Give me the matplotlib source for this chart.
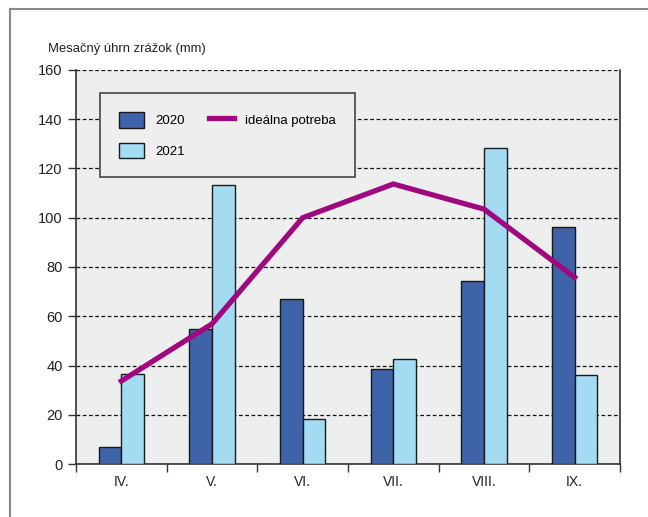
import matplotlib.pyplot as plt
from matplotlib.lines import Line2D
import numpy as np

months = ['IV.', 'V.', 'VI.', 'VII.', 'VIII.', 'IX.']
rain_2020 = [6.9, 54.8, 67, 38.5, 74.2, 96.2]
rain_2021 = [36.5, 113.5, 18.2, 42.5, 128.3, 36.3]
ideal = [33.7, 56.9, 100, 113.7, 103.5, 75.8]

plt.rcParams['font.family'] = ['Liberation Sans Narrow', 'Liberation Sans', 'DejaVu Sans']
plt.rcParams['font.size'] = 10

fig = plt.figure(figsize=(6.48, 5.17), dpi=100)
ax = fig.add_axes([76 / 648, 1 - 464 / 517, 544 / 648, 394 / 517])
ax.set_facecolor('#edefee')

x = np.arange(len(months))
w = 0.25
b1 = ax.bar(x - w / 2, rain_2020, w, color='#3f63a8', edgecolor='#1a1a1a', linewidth=1, label='2020', zorder=3)
b2 = ax.bar(x + w / 2, rain_2021, w, color='#a3dbf3', edgecolor='#1a1a1a', linewidth=1, label='2021', zorder=3)
ln, = ax.plot(x, ideal, color='#a0087f', linewidth=3.8, label='ideálna potreba', zorder=4,
              solid_joinstyle='miter')

ax.set_xlim(-0.5, 5.5)
ax.set_ylim(0, 160)
ax.set_yticks(range(0, 161, 20))
ax.set_xticks(x)
ax.set_xticklabels(months)
ax.set_xticks(np.arange(-0.5, 5.6, 1), minor=True)
ax.tick_params(axis='x', which='major', length=0, pad=8, colors='#222222', labelsize=10)
ax.tick_params(axis='x', which='minor', length=6, width=1, color='#333333')
ax.tick_params(axis='y', length=6, width=1, color='#333333', labelcolor='#222222', labelsize=10.5)

ax.grid(axis='y', color='#111111', linestyle=(0, (3, 2)), linewidth=0.9, zorder=1)
ax.set_axisbelow(True)
ax.spines['top'].set_visible(False)
for s in ['left', 'right', 'bottom']:
    ax.spines[s].set_color('#333333')
    ax.spines[s].set_linewidth(1.2)

fig.text(48 / 648, 1 - 49 / 517, 'Mesačný úhrn zrážok (mm)', fontsize=9.4,
         color='#222222', va='center', ha='left')

leg = ax.legend(handles=[b1, b2, ln], loc='upper left', bbox_to_anchor=(0.044, 0.942),
                borderaxespad=0, ncol=2, frameon=True, fancybox=False, framealpha=1,
                fontsize=9.5, handlelength=1.9, handleheight=1.44, borderpad=1.45,
                labelspacing=1.15, columnspacing=1.8, handletextpad=0.85)
leg.get_frame().set_facecolor('#eeeeee')
leg.get_frame().set_edgecolor('#444444')
leg.get_frame().set_linewidth(1.2)

# frame around the figure (left and top only)
fig.add_artist(Line2D([10 / 648, 10 / 648], [0, 1 - 9 / 517], color='#888888', linewidth=1.5))
fig.add_artist(Line2D([10 / 648, 1], [1 - 9 / 517, 1 - 9 / 517], color='#888888', linewidth=1.5))

fig.savefig('out.png', dpi=100)
